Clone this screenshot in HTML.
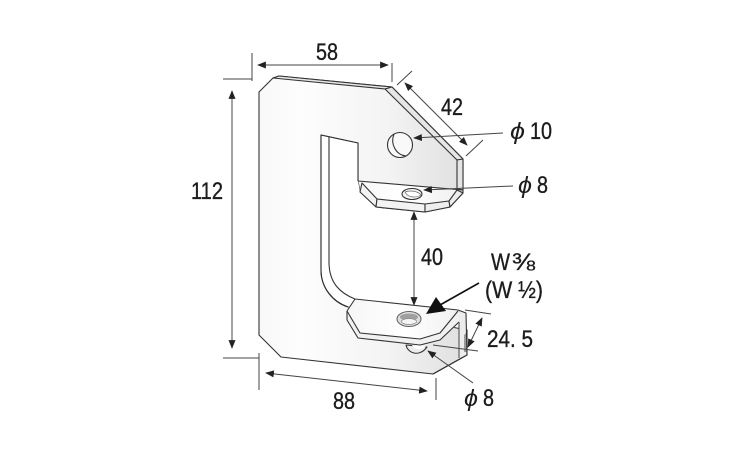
<!DOCTYPE html>
<html><head><meta charset="utf-8"><style>
html,body{margin:0;padding:0;background:#fff}
svg{display:block}
text{font-family:"Liberation Sans",sans-serif;fill:#1c1c1c;font-size:24px;stroke:#1c1c1c;stroke-width:.35px}
text.p{stroke-width:0;font-size:23px}
</style></head><body>
<svg width="750" height="450" viewBox="0 0 750 450" xmlns="http://www.w3.org/2000/svg">
<defs>
<linearGradient id="b" gradientUnits="userSpaceOnUse" x1="259" y1="0" x2="470" y2="0">
<stop offset="0" stop-color="#f8f8f8"/><stop offset=".2" stop-color="#fdfdfd"/><stop offset=".6" stop-color="#f4f4f4"/><stop offset="1" stop-color="#dedede"/>
</linearGradient>
<linearGradient id="p" gradientUnits="userSpaceOnUse" x1="347" y1="0" x2="460" y2="0">
<stop offset="0" stop-color="#f6f6f6"/><stop offset=".5" stop-color="#fff"/><stop offset="1" stop-color="#f0f0f0"/>
</linearGradient>
<marker id="a" viewBox="0 0 10 8" refX="9" refY="4" markerWidth="9" markerHeight="7" markerUnits="userSpaceOnUse" orient="auto-start-reverse"><path d="M0 0L10 4L0 8z" fill="#222"/></marker>
</defs>
<g stroke="#333" stroke-width="1.1" stroke-linejoin="round">
<!-- body -->
<path fill="url(#b)" d="M259 92L273 78L279 76L392 87L463 159V193L450 207L425 212L376 207L360 192L358 181V143L321 135V270C321 288 333 302 348 307L467 330V355L433 374L281 357L259 335Z"/>
<path fill="#e8e8e8" d="M273 78L279 76L392 87L385 89Z"/>
<path fill="#e6e6e6" d="M385 89L392 87L463 159L457 160Z"/>
<path fill="#e4e4e4" d="M457 160L463 159V190L457 189Z"/>
<!-- slot -->
<path fill="#fff" stroke="none" d="M329 138L358 143V181L360 192L376 207V299H355C340 293 329 283 329 262Z"/>
<path fill="none" d="M321 135V270C321 288 333 302 348 307"/>
<path fill="none" d="M329 137V262C329 283 340 293 355 299"/>
<path fill="none" d="M321 135L358 143V181"/>
<!-- upper flange -->
<path fill="url(#p)" d="M362 183L358 181L457 190L463 193L450 207L425 212L376 207L360 192Z" stroke="none"/>
<path fill="none" d="M358 181L463 190"/>
<path fill="#f3f3f3" d="M360 192L362 183L377 199L376 207Z"/>
<path fill="#f3f3f3" d="M377 199L425 204L425 212L376 207Z"/>
<path fill="#eee" d="M425 204L449 201L450 207L425 212Z"/>
<path fill="#ececec" d="M449 201L457 190L463 193L450 207Z"/>
<ellipse cx="412" cy="194" rx="10" ry="5.5" fill="#f2f2f2"/>
<path fill="#fff" stroke="#666" stroke-width=".7" d="M405 192C410 190 418 191 421 195C416 198 408 198 405 192Z"/>
<!-- upper hole -->
<circle cx="400" cy="145" r="12.5" fill="#f9f9f9"/>
<path fill="none" d="M394 134C390 144 396 155 406 156"/>
<!-- right face -->
<path fill="#ececec" stroke="none" d="M440 340L458 313L458 310L466 313L467 355L459 358L459 323Z"/>
<path fill="#9a9a9a" stroke="none" d="M464 335L467 332V352L464 352Z"/>
<path fill="none" d="M458 310L466 313L467 355L433 374"/>
<path fill="none" stroke="#555" d="M459 322V358"/>
<!-- lower plate -->
<path fill="url(#p)" stroke="none" d="M348 308L355 299L458 310L459 323L440 340L420 345L358 338L347 320Z"/>
<path fill="#f1f1f1" stroke="none" d="M347 313L360 333L420 339L440 333L458 313L459 323L440 340L420 345L358 338L347 320Z"/>
<path fill="none" d="M355 299L458 310"/>
<path fill="none" d="M355 299L347 311L360 333L420 339L440 333L458 311"/>
<path fill="none" d="M347 311V320L358 338L420 345L440 340L459 322"/>
<!-- lower hole -->
<path fill="#ececec" d="M406 345C408 354 420 357 427 347Z"/>
<path fill="#fff" stroke="none" d="M412 345C415 351 423 350 426 346Z"/>
<!-- thread -->
<ellipse cx="409" cy="319" rx="12" ry="7.5" fill="#dedede" stroke="#666"/>
<ellipse cx="409" cy="317" rx="9" ry="3.5" fill="#a0a0a0" stroke="none"/>
<ellipse cx="409" cy="321.500" rx="7.500" ry="3" fill="#f4f4f4" stroke="#888" stroke-width=".7"/>
</g>
<!-- dimension lines -->
<g stroke="#444" stroke-width="1" fill="none">
<path d="M252 53V81M223 79H252M392 63V82M397 85L412 71M466 156L483 140M223 358H259M259 353V390M436 378V400M465 310L491 314M433 345L478 351"/>
<path d="M258 65H388" marker-start="url(#a)" marker-end="url(#a)"/>
<path d="M405 83L467 145" marker-start="url(#a)" marker-end="url(#a)"/>
<path d="M503 133L414 138" marker-end="url(#a)"/>
<path d="M513 186L424 190" marker-end="url(#a)"/>
<path d="M232 91V348" marker-start="url(#a)" marker-end="url(#a)"/>
<path d="M414 212V305" marker-start="url(#a)" marker-end="url(#a)"/>
<path d="M482 318L468 347" marker-start="url(#a)" marker-end="url(#a)"/>
<path d="M266 373L427 391" marker-start="url(#a)" marker-end="url(#a)"/>
<path d="M473 383L428 351" marker-end="url(#a)"/>
<path d="M479 283L440 305" stroke="#111" stroke-width="1.6"/>
</g>
<path d="M426 314L436 297L446 311Z" fill="#111"/>
<!-- labels -->
<text x="316" y="60" textLength="22" lengthAdjust="spacingAndGlyphs">58</text>
<text x="441" y="115" textLength="22" lengthAdjust="spacingAndGlyphs">42</text>
<text class="p" x="510" y="139" textLength="15" lengthAdjust="spacingAndGlyphs" font-style="italic">ϕ</text>
<text x="530" y="139" textLength="22" lengthAdjust="spacingAndGlyphs">10</text>
<text class="p" x="518" y="193" textLength="14" lengthAdjust="spacingAndGlyphs" font-style="italic">ϕ</text>
<text x="537" y="193" textLength="11" lengthAdjust="spacingAndGlyphs">8</text>
<text x="191" y="199" textLength="32" lengthAdjust="spacingAndGlyphs">112</text>
<text x="421" y="265" textLength="22" lengthAdjust="spacingAndGlyphs">40</text>
<text x="491" y="270" textLength="19" lengthAdjust="spacingAndGlyphs">W</text>
<text x="512" y="270" textLength="23" lengthAdjust="spacingAndGlyphs">⅜</text>
<text x="485" y="298" textLength="58" lengthAdjust="spacingAndGlyphs">(W ½)</text>
<text x="487" y="347" textLength="46" lengthAdjust="spacingAndGlyphs">24. 5</text>
<text class="p" x="464" y="406" textLength="14" lengthAdjust="spacingAndGlyphs" font-style="italic">ϕ</text>
<text x="483" y="406" textLength="11" lengthAdjust="spacingAndGlyphs">8</text>
<text x="333" y="409" textLength="22" lengthAdjust="spacingAndGlyphs">88</text>
</svg>
</body></html>
